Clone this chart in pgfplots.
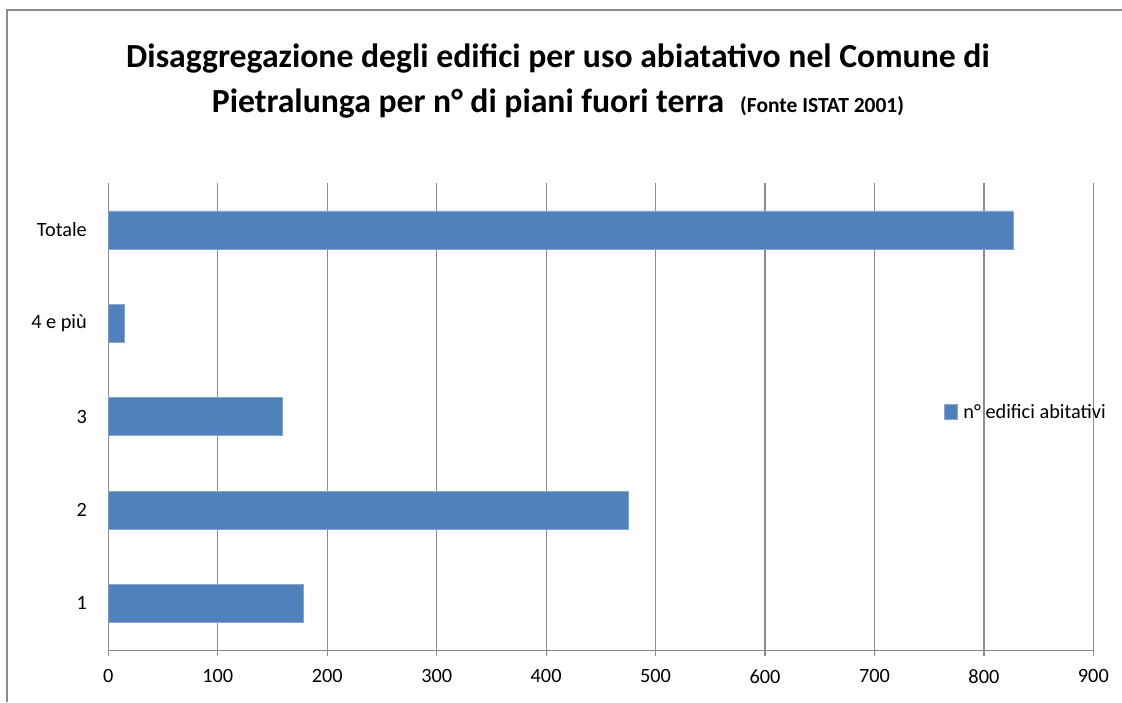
\documentclass[border=0pt]{standalone}
\usepackage{fontspec}
\setmainfont{Carlito}
\usepackage{pgfplots}
\pgfplotsset{compat=1.18}
\definecolor{barblue}{HTML}{4F81BD}
\definecolor{gridgray}{HTML}{8C8C8C}
\begin{document}
\begin{tikzpicture}[x=1pt,y=1pt]
\draw[gridgray,line width=1.2pt] (7,0) -- (7,692) -- (1122,692);
\node[font=\fontsize{33.7}{45}\selectfont\bfseries,align=center] at (558,621)
 {Disaggregazione degli edifici per uso abiatativo nel Comune di\\
  Pietralunga per n° di piani fuori terra\hspace{16pt}{\fontsize{21.5}{24}\selectfont (Fonte ISTAT 2001)}};
\begin{axis}[
  at={(99,55.5)}, anchor=south west,
  scale only axis, width=985pt, height=467pt,
  xmin=0, xmax=900, ymin=-0.5, ymax=4.5,
  xbar, bar width=38pt,
  axis x line*=bottom, axis y line*=left,
  axis line style={gridgray,line width=1.2pt},
  xtick={0,100,...,900},
  xmajorgrids, major grid style={gridgray,line width=1.2pt},
  major tick style={gridgray,line width=1.2pt},
  major tick length=6pt,
  tick align=outside,
  ytick={0,1,2,3,4},
  yticklabels={1,2,3,4 e più,Totale},
  ytick style={draw=none},
  extra y ticks={-0.5,0.5,1.5,2.5,3.5,4.5},
  extra y tick labels={},
  extra y tick style={major tick length=6pt, tick style={gridgray,line width=1.2pt}, grid=none},
  ticklabel style={font=\fontsize{20.3}{23}\selectfont},
  /pgf/number format/assume math mode=true,
  yticklabel style={xshift=-12pt},
  xticklabel style={yshift=-10pt},
  legend style={at={(0.848,0.51)}, anchor=west, draw=none, fill=none,
    font=\fontsize{20.3}{23}\selectfont, inner sep=0pt},
  legend image code/.code={\fill[#1] (0pt,-7.5pt) rectangle (13pt,7.5pt); \path (17pt,0pt);},
]
\addplot[fill=barblue, draw=barblue!70!white, line width=0.6pt] coordinates {
 (178,0) (475,1) (159,2) (15,3) (827,4)
};
\addlegendentry{n° edifici abitativi}
\end{axis}
\pgfresetboundingbox
\path[use as bounding box] (0,0) rectangle (1122,702);
\end{tikzpicture}
\end{document}
